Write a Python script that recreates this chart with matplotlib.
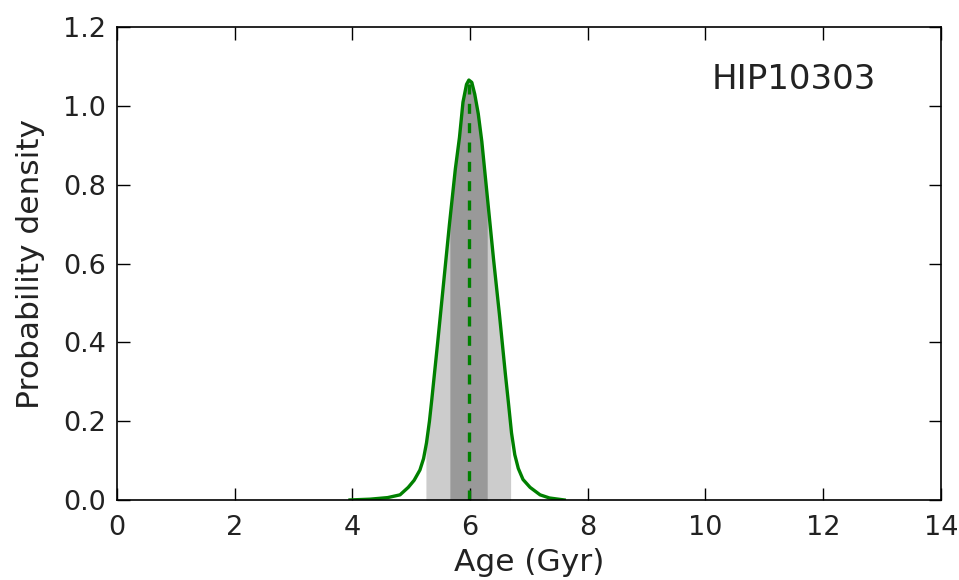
import matplotlib
matplotlib.use("Agg")
import matplotlib.pyplot as plt
import numpy as np

# Age posterior for HIP10303
ages = [3.96, 4.3, 4.6, 4.81, 4.95, 5.05, 5.148, 5.21, 5.26, 5.31, 5.35,
        5.45, 5.55, 5.65, 5.75, 5.82, 5.88, 5.94, 5.98, 6.03, 6.08, 6.14,
        6.20, 6.30, 6.40, 6.50, 6.60, 6.65, 6.705, 6.76, 6.82, 6.90, 7.02,
        7.19, 7.35, 7.6]
density = [0.0, 0.002, 0.006, 0.013, 0.032, 0.05, 0.076, 0.105, 0.145,
           0.20, 0.255, 0.40, 0.55, 0.70, 0.84, 0.92, 1.01, 1.055, 1.066,
           1.06, 1.03, 0.98, 0.91, 0.76, 0.61, 0.47, 0.32, 0.25, 0.17,
           0.115, 0.08, 0.052, 0.032, 0.013, 0.005, 0.0]

age_median = 5.98
interval_68 = (5.657, 6.292)
interval_95 = (5.25, 6.69)
star_name = "HIP10303"

ages = np.array(ages)
density = np.array(density)

fig = plt.figure(figsize=(9.59, 5.80), dpi=100)
ax = fig.add_axes([0.122, 0.138, 0.859, 0.815])

fine_age = np.linspace(ages.min(), ages.max(), 1200)
fine_den = np.interp(fine_age, ages, density)

m95 = (fine_age >= interval_95[0]) & (fine_age <= interval_95[1])
ax.fill_between(fine_age[m95], 0, fine_den[m95], color="#cccccc", lw=0)
m68 = (fine_age >= interval_68[0]) & (fine_age <= interval_68[1])
ax.fill_between(fine_age[m68], 0, fine_den[m68], color="#999999", lw=0)

ax.plot(ages, density, color="green", lw=2.4, solid_joinstyle="round")
peak_at_median = np.interp(age_median, ages, density)
ax.plot([age_median, age_median], [0, peak_at_median], color="green",
        lw=2.4, ls=(0, (3, 2.8)))

ax.set_xlim(0, 14)
ax.set_ylim(0, 1.2)
ax.set_xticks(np.arange(0, 15, 2))
ax.set_yticks(np.arange(0, 1.21, 0.2))
ax.set_yticklabels([f"{v:.1f}" for v in np.arange(0, 1.21, 0.2)])

ax.tick_params(direction="in", length=9, width=1, top=True, right=True,
               labelsize=19.5, colors="black")
ax.tick_params(axis="y", pad=8)
ax.tick_params(axis="x", pad=11)
for lab in ax.get_xticklabels() + ax.get_yticklabels():
    lab.set_color("#222222")
for s in ax.spines.values():
    s.set_linewidth(1.2)

ax.set_xlabel("Age (Gyr)", fontsize=22.5, labelpad=5, color="#222222")
ax.set_ylabel("Probability density", fontsize=22.5, labelpad=13,
              color="#222222")
ax.text(0.921, 0.89, star_name, transform=ax.transAxes, ha="right",
        va="center", fontsize=24.5, color="#222222")

fig.savefig("out.png", dpi=100)
